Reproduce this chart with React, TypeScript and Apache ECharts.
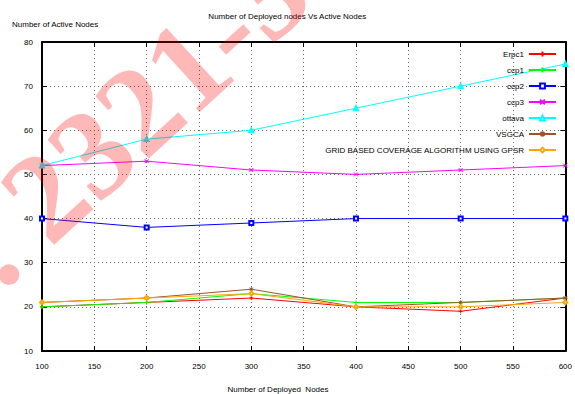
import React, { useEffect, useRef } from "react";
import * as echarts from "echarts";

const xValues = [100, 200, 300, 400, 500, 600];
const erpc1 = [20, 21, 22, 20, 19, 22];
const ccp1 = [20, 21, 23, 21, 21, 22];
const ccp2 = [40, 38, 39, 40, 40, 40];
const ccp3 = [52, 53, 51, 50, 51, 52];
const ottava = [52, 58, 60, 65, 70, 75];
const vsgca = [21, 22, 24, 20, 21, 22];
const gpsr = [21, 22, 23, 20, 20, 21];

const seriesNames = ["Erpc1", "ccp1", "ccp2", "ccp3", "ottava", "VSGCA", "GRID BASED COVERAGE ALGORITHM USING GPSR"];
const seriesColors = ["#ff0000", "#00ff00", "#0000ff", "#ff00ff", "#00ffff", "#a0522d", "#ffa500"];
const seriesData = [erpc1, ccp1, ccp2, ccp3, ottava, vsgca, gpsr];

const FONT = "'Liberation Sans', Arial, sans-serif";

const symbols = [
  "path://M0,5L10,5M5,0L5,10",
  "path://M0,5L10,5M5,0L5,10",
  "emptyRect",
  "path://M0,0L10,10M0,10L10,0M0,5L10,5",
  "emptyTriangle",
  "path://M0,5L10,5M5,0L5,10M1,1L9,9M1,9L9,1",
  "emptyDiamond",
];

export default function App() {
  const ref = useRef<HTMLDivElement>(null);
  useEffect(() => {
    if (!ref.current) return;
    const chart = echarts.init(ref.current, undefined, { renderer: "svg" });
    const series: any[] = seriesNames.map((name, i) => ({
      name,
      type: "line",
      data: xValues.map((x, j) => [x, seriesData[i][j]]),
      symbol: symbols[i],
      symbolSize: 4,
      showSymbol: true,
      lineStyle: { color: seriesColors[i], width: 1 },
      itemStyle: { color: seriesColors[i], borderColor: seriesColors[i], borderWidth: 1 },
      z: 3,
    }));
    const axisCommon = {
      axisLine: { show: true, onZero: false, lineStyle: { color: "#000", width: 2 } },
      axisTick: { show: true, inside: true, length: 5, lineStyle: { color: "#000", width: 1 } },
    };
    chart.setOption({
      animation: false,
      backgroundColor: "#fff",
      grid: { left: 42, right: 4, top: 42, bottom: 43, containLabel: false },
      xAxis: [
        {
          type: "value", min: 100, max: 600, interval: 50, position: "bottom",
          ...axisCommon,
          axisLabel: { fontSize: 8, fontFamily: FONT, color: "#000", margin: 11 },
          splitLine: { show: true, lineStyle: { color: "#666", type: [1, 3], width: 1 } },
        },
        {
          type: "value", min: 100, max: 600, interval: 50, position: "top",
          ...axisCommon,
          axisLabel: { show: false },
          splitLine: { show: false },
        },
      ],
      yAxis: [
        {
          type: "value", min: 10, max: 80, interval: 10, position: "left",
          ...axisCommon,
          axisLabel: { fontSize: 8, fontFamily: FONT, color: "#000", margin: 9 },
          splitLine: { show: true, lineStyle: { color: "#666", type: [1, 3], width: 1 } },
        },
        {
          type: "value", min: 10, max: 80, interval: 10, position: "right",
          ...axisCommon,
          axisLabel: { show: false },
          splitLine: { show: false },
        },
      ],
      legend: {
        orient: "vertical",
        align: "right",
        right: 13,
        top: 45,
        itemWidth: 27,
        itemHeight: 6,
        itemGap: 8,
        textStyle: { fontSize: 8, fontFamily: FONT, color: "#000" },
        data: seriesNames,
      },
      graphic: [
        {
          type: "text", left: "center", top: 12,
          style: { text: "Number of Deployed nodes Vs Active Nodes", fontSize: 8, fontFamily: FONT, fill: "#000" },
        },
        {
          type: "text", left: 12, top: 20,
          style: { text: "Number of Active Nodes", fontSize: 8, fontFamily: FONT, fill: "#000" },
        },
        {
          type: "text", x: 278, y: 389,
          style: { text: "Number of Deployed  Nodes", fontSize: 8, fontFamily: FONT, fill: "#000", align: "center", verticalAlign: "middle" },
        },
        {
          type: "text", x: -26, y: 260, rotation: 0.74, z: 100,
          style: {
            text: ". 2321-3", fontSize: 128, fontFamily: "'Liberation Serif', serif", fontWeight: "bold",
            fill: "rgba(255,0,0,0.28)", align: "left", verticalAlign: "middle",
          },
        },
      ],
      series,
    });
    return () => chart.dispose();
  }, []);
  return <div ref={ref} style={{ width: 575, height: 394, position: "absolute", left: 0, top: 0 }} />;
}
